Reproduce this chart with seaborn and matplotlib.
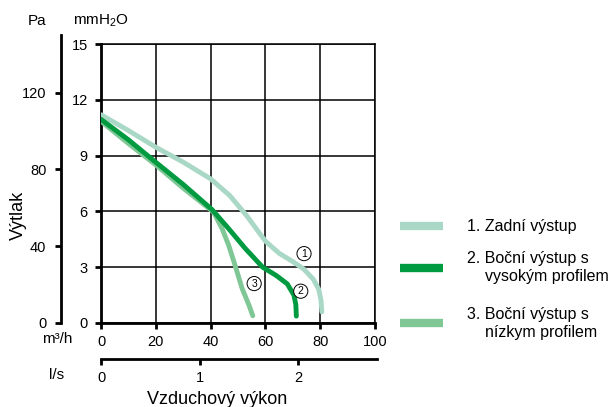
import pandas as pd
import matplotlib
matplotlib.use("Agg")
import matplotlib.pyplot as plt
from matplotlib.lines import Line2D
import seaborn as sns

# curves: x in m3/h, y in mmH2O
zadni_x = [0, 10, 20, 30, 40, 47, 53, 60, 65, 70, 74, 77.5, 79.5, 80.3, 80.6]
zadni_y = [11.2, 10.35, 9.45, 8.65, 7.75, 6.85, 5.8, 4.4, 3.75, 3.3, 2.9, 2.35, 1.8, 1.2, 0.6]

vysoky_x = [0, 10, 19.5, 30, 40.5, 46.6, 52.7, 59, 64, 68, 70.4, 71.1, 71.3]
vysoky_y = [10.95, 9.85, 8.7, 7.45, 6.1, 5.07, 4.0, 3.0, 2.55, 2.1, 1.5, 1.0, 0.37]

nizky_x = [0, 10, 20, 30, 41.1, 44.2, 46.6, 49.1, 51.5, 54, 55.4]
nizky_y = [10.85, 9.65, 8.5, 7.25, 5.96, 5.07, 4.18, 3.02, 1.86, 0.96, 0.39]

curve_names = ["1. Zadní výstup",
               "2. Boční výstup s\n    vysokým profilem",
               "3. Boční výstup s\n    nízkym profilem"]
curve_colors = ["#a9d8c6", "#009a40", "#80c796"]
circle_labels = ["1", "2", "3"]
circle_x = [74.1, 72.9, 55.9]
circle_y = [3.73, 1.71, 2.12]

mm_ticks = [0, 3, 6, 9, 12, 15]
m3h_ticks = [0, 20, 40, 60, 80, 100]
pa_ticks = [0, 40, 80, 120]
ls_ticks = [0, 1, 2]

rows = []
for name, xs, ys in zip(curve_names, [zadni_x, vysoky_x, nizky_x], [zadni_y, vysoky_y, nizky_y]):
    for x, y in zip(xs, ys):
        rows.append({"m3h": x, "mm": y, "curve": name})
df = pd.DataFrame(rows)

sns.set_style("white")
plt.rcParams["font.family"] = ["Liberation Sans", "DejaVu Sans"]
plt.rcParams["mathtext.fontset"] = "custom"
plt.rcParams["mathtext.rm"] = "Liberation Sans"
plt.rcParams["lines.solid_capstyle"] = "round"
plt.rcParams["lines.solid_joinstyle"] = "round"
for k in ["text.color", "axes.labelcolor", "xtick.color", "ytick.color", "axes.edgecolor"]:
    plt.rcParams[k] = "black"

W, H = 611, 407
fig = plt.figure(figsize=(W / 100, H / 100), dpi=100)

# main axes (m3/h vs mmH2O)
ax = fig.add_axes([101 / W, 1 - 323 / H, 274 / W, 279 / H])
palette = dict(zip(curve_names, curve_colors))
sns.lineplot(data=df, x="m3h", y="mm", hue="curve",
             hue_order=[curve_names[0], curve_names[2], curve_names[1]],
             palette=palette, sort=False, estimator=None, lw=3.5,
             legend=False, ax=ax, zorder=3)
ax.set_xlim(0, 100)
ax.set_ylim(0, 15)
ax.set_xticks(m3h_ticks)
ax.set_yticks(mm_ticks)
ax.grid(True, color="black", lw=1.1)
ax.set_axisbelow(True)
for s in ["top", "right"]:
    ax.spines[s].set_linewidth(1.1)
for s in ["left", "bottom"]:
    ax.spines[s].set_linewidth(2.0)
ax.tick_params(axis="both", direction="out", length=4.5, width=2.0, labelsize=10.5,
               left=True, bottom=True)
ax.tick_params(axis="y", pad=5)
ax.tick_params(axis="x", pad=4)
ax.set_xlabel("")
ax.set_ylabel("")

for lab, cx, cy in zip(circle_labels, circle_x, circle_y):
    ax.text(cx, cy, lab, ha="center", va="center", fontsize=7.5, zorder=5,
            bbox=dict(boxstyle="circle,pad=0.2", fc="white", ec="black", lw=0.7))

# Pa axis
pa = fig.add_axes([61 / W, 1 - 323 / H, 0.0001, 288 / H])
pa.set_ylim(0, 150)
pa.set_yticks(pa_ticks)
pa.set_xticks([])
for s in ["top", "right", "bottom"]:
    pa.spines[s].set_visible(False)
pa.spines["left"].set_linewidth(2.0)
pa.tick_params(axis="y", direction="out", length=4.5, width=2.0, labelsize=10.5,
               pad=6, left=True)
pa.patch.set_alpha(0)

# l/s axis
ls = fig.add_axes([101 / W, 1 - 359 / H, 276 / W, 0.0001])
ls.set_xlim(0, 2.8)
ls.set_xticks(ls_ticks)
ls.set_yticks([])
for s in ["top", "right", "left"]:
    ls.spines[s].set_visible(False)
ls.spines["bottom"].set_linewidth(2.0)
ls.tick_params(axis="x", direction="out", length=4.5, width=2.0, labelsize=10.5,
               pad=4, bottom=True)
ls.patch.set_alpha(0)

# axis texts
fig.text(37 / W, 1 - 21 / H, "Pa", ha="center", va="center", fontsize=11)
fig.text(101 / W, 1 - 21 / H, r"mmH$_{2}$O", ha="center", va="center", fontsize=11)
fig.text(57 / W, 1 - 339 / H, "m³/h", ha="center", va="center", fontsize=11)
fig.text(57 / W, 1 - 375 / H, "l/s", ha="center", va="center", fontsize=11)
fig.text(18 / W, 1 - 215 / H, "Výtlak", ha="center", va="center", fontsize=13, rotation=90)
fig.text(217 / W, 1 - 399 / H, "Vzduchový výkon", ha="center", va="center", fontsize=13)

# legend: one entry per block so each sits where it does in the original
legend_y = [227, 268, 323]
for name, c, yc in zip(curve_names, curve_colors, legend_y):
    h = Line2D([], [], color=c, lw=6, solid_capstyle="butt")
    leg = fig.legend([h], [name], loc="center left", bbox_to_anchor=(400 / W, 1 - yc / H),
                     frameon=False, borderpad=0, borderaxespad=0, fontsize=11.5,
                     handlelength=2.7, handletextpad=1.5)
    for t in leg.get_texts():
        t.set_linespacing(1.25)

fig.savefig("out.png", dpi=100)
